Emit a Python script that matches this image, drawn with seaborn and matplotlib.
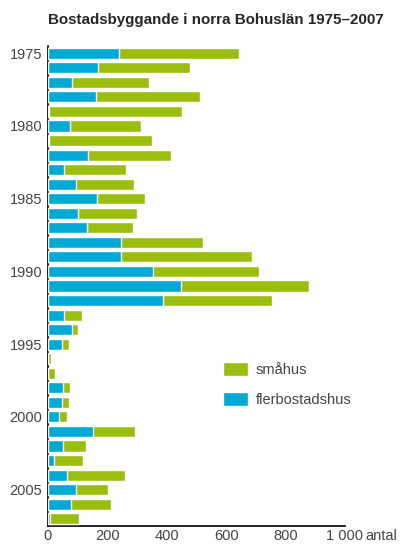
import matplotlib
matplotlib.use("Agg")
import matplotlib.pyplot as plt
from matplotlib.patches import Patch
import pandas as pd
import seaborn as sns

# årtal och antal lägenheter
years = list(range(1975, 2008))
flerbostadshus = [239, 168, 81, 162, 3, 74, 2, 135, 54, 94, 165, 101, 131, 246, 246, 354,
                  448, 387, 54, 81, 47, 0, 0, 51, 47, 37, 152, 51, 20, 64, 94, 77, 7]
smahus = [404, 310, 258, 350, 448, 239, 348, 279, 209, 196, 162, 199, 155, 276, 441, 356,
          431, 367, 60, 20, 24, 10, 24, 23, 24, 27, 141, 77, 98, 195, 108, 135, 97]
year_labels = [1975, 1980, 1985, 1990, 1995, 2000, 2005]
x_ticks = [0, 200, 400, 600, 800, 1000]
x_labels = ["0", "200", "400", "600", "800", "1 000"]

blue = "#00AAD4"
green = "#9BBE0E"

df = pd.DataFrame({"year": [str(y) for y in years],
                   "fler": flerbostadshus,
                   "smahus": smahus})
df["total"] = df["fler"] + df["smahus"]

sns.set_style("white")
plt.rcParams["font.family"] = ["Liberation Sans", "DejaVu Sans"]

fig = plt.figure(figsize=(4.01, 5.45), dpi=100)
ax = fig.add_axes([48 / 401, 19 / 545, 297 / 401, 480 / 545])

# staplad: totalen i grönt, flerbostadshus i blått ovanpå
sns.barplot(data=df, x="total", y="year", color=green, orient="h", width=0.76,
            saturation=1, ax=ax, zorder=3)
sns.barplot(data=df, x="fler", y="year", color=blue, orient="h", width=0.76,
            saturation=1, ax=ax, zorder=4)

ax.set_xlim(0, 1000)
ax.set_ylim(len(years) - 0.5, -0.5)
ax.set_xticks(x_ticks)
ax.set_xticklabels(x_labels)
pos = [years.index(y) for y in year_labels]
ax.set_yticks(pos)
ax.set_yticklabels([str(y) for y in year_labels])
ax.set_xlabel("")
ax.set_ylabel("")

for s in ["top", "right"]:
    ax.spines[s].set_visible(False)
for s in ["left", "bottom"]:
    ax.spines[s].set_color("black")
    ax.spines[s].set_linewidth(1.2)
    ax.spines[s].set_zorder(2)

ax.tick_params(axis="x", direction="in", length=8, width=1.2, colors="black",
               labelcolor="#444444", labelsize=10.5, pad=2)
ax.tick_params(axis="y", length=0, labelcolor="#444444", labelsize=10.5, pad=4)

ax.text(1.068, -0.006, "antal", transform=ax.transAxes, fontsize=10.5,
        color="#444444", ha="left", va="top")

fig.text(48 / 401, 1 - 20 / 545, "Bostadsbyggande i norra Bohuslän 1975–2007",
         fontsize=10.9, fontweight="bold", ha="left", va="center")

handles = [Patch(facecolor=green, label="småhus"),
           Patch(facecolor=blue, label="flerbostadshus")]
ax.legend(handles=handles, loc="center left", bbox_to_anchor=(0.545, 0.295),
          frameon=False, fontsize=10.5, handlelength=1.7, handleheight=1.1,
          labelspacing=1.0, handletextpad=0.55, labelcolor="#444444")

fig.savefig("out.png", dpi=100)
